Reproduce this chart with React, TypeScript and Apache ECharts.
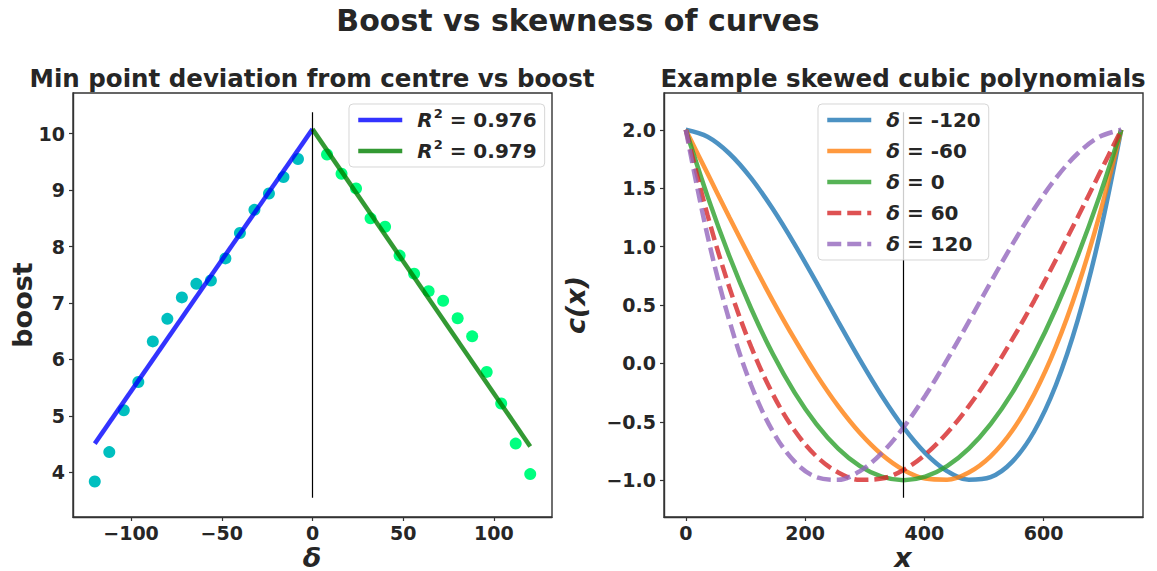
import React, { useEffect, useRef } from "react";
import * as echarts from "echarts";

// ---- Left panel: min point deviation from centre vs boost ----
const deltaNeg = [-120, -112, -104, -96, -88, -80, -72, -64, -56, -48, -40, -32, -24, -16, -8];
const boostNeg = [3.84, 4.36, 5.1, 5.6, 6.32, 6.72, 7.1, 7.34, 7.4, 7.79, 8.24, 8.65, 8.94, 9.23, 9.55];
const deltaPos = [8, 16, 24, 32, 40, 48, 56, 64, 72, 80, 88, 96, 104, 112, 120];
const boostPos = [9.63, 9.29, 9.03, 8.5, 8.35, 7.84, 7.52, 7.21, 7.04, 6.73, 6.41, 5.78, 5.22, 4.51, 3.97];

const fitNegX = [-120, 0];
const fitNegY = [4.51, 10.08];
const fitPosX = [0, 120];
const fitPosY = [10.08, 4.46];
const fitNames = ["R² = 0.976", "R² = 0.979"];

const centreLeftX = 0;
const centreLeftY = [3.55, 10.38];
const leftXTicks = [-100, -50, 0, 50, 100];
const leftYTicks = [4, 5, 6, 7, 8, 9, 10];

// ---- Right panel: example skewed cubic polynomials ----
const xs = [0, 36.5, 73, 109.5, 146, 182.5, 219, 255.5, 292, 328.5, 365, 401.5, 438, 474.5, 511, 547.5, 584, 620.5, 657, 693.5, 730];
const cMinus120 = [2, 1.94, 1.797, 1.586, 1.321, 1.019, 0.693, 0.358, 0.03, -0.277, -0.548, -0.768, -0.922, -0.996, -0.974, -0.841, -0.583, -0.185, 0.368, 1.092, 2];
const cMinus60 = [2, 1.625, 1.252, 0.887, 0.536, 0.207, -0.096, -0.366, -0.596, -0.78, -0.912, -0.986, -0.996, -0.934, -0.796, -0.575, -0.264, 0.143, 0.652, 1.269, 2];
const cZero = [2, 1.43, 0.92, 0.47, 0.08, -0.25, -0.52, -0.73, -0.88, -0.97, -1, -0.97, -0.88, -0.73, -0.52, -0.25, 0.08, 0.47, 0.92, 1.43, 2];
const cPlus60 = [2, 1.269, 0.652, 0.143, -0.264, -0.575, -0.796, -0.934, -0.996, -0.986, -0.912, -0.78, -0.596, -0.366, -0.096, 0.207, 0.536, 0.887, 1.252, 1.625, 2];
const cPlus120 = [2, 1.092, 0.368, -0.185, -0.583, -0.841, -0.974, -0.996, -0.922, -0.768, -0.548, -0.277, 0.03, 0.358, 0.693, 1.019, 1.321, 1.586, 1.797, 1.94, 2];
const curveNames = ["δ = -120", "δ = -60", "δ = 0", "δ = 60", "δ = 120"];

const centreRightX = 365;
const centreRightY = [-1.15, 2.15];
const rightXTicks = [0, 200, 400, 600];
const rightYTicks = [-1, -0.5, 0, 0.5, 1, 1.5, 2];

const FONT = "DejaVu Sans";
const INK = "#262626";
const SPINE = "#333333";

const minus = (s: string) => s.replace("-", "\u2212");

const pairs = (x: number[], y: number[]) => x.map((v, i) => [v, y[i]]);

export default function App() {
  const ref = useRef<HTMLDivElement>(null);

  useEffect(() => {
    if (!ref.current) return;
    const chart = echarts.init(ref.current, null, { renderer: "svg" });

    const tickLabel = {
      color: INK,
      fontFamily: FONT,
      fontWeight: "bold" as const,
      fontSize: 19,
    };
    const axisCommon = {
      axisLine: { show: true, onZero: false, lineStyle: { color: SPINE, width: 1.4 } },
      axisTick: { show: true, length: 4, lineStyle: { color: SPINE, width: 1.2 } },
      splitLine: { show: false },
    };

    const legendText = {
      color: INK,
      fontFamily: FONT,
      fontWeight: "bold" as const,
      fontSize: 20,
      lineHeight: 26,
      rich: {
        i: { fontStyle: "italic", fontWeight: "bold", fontFamily: FONT, fontSize: 20, color: INK, lineHeight: 26, padding: [0, 0, 0, 10] },
        s: { fontWeight: "bold", fontFamily: FONT, fontSize: 13, color: INK, verticalAlign: "top", lineHeight: 26, padding: [0, 0, 8, 1] },
        b: { fontWeight: "bold", fontFamily: FONT, fontSize: 20, color: INK, lineHeight: 26 },
      },
    };

    const legendBox = {
      orient: "vertical",
      itemWidth: 44,
      itemHeight: 14,
      itemGap: 5,
      padding: [3, 8, 3, 7],
      backgroundColor: "rgba(255,255,255,0.8)",
      borderColor: "rgba(204,204,204,0.8)",
      borderWidth: 1,
      borderRadius: 4,
      itemStyle: { opacity: 0 },
      lineStyle: { width: 4.5 },
      textStyle: legendText,
      z: 10,
    };

    const curveColors = [
      "rgba(31,119,180,0.8)",
      "rgba(255,127,14,0.8)",
      "rgba(44,160,44,0.8)",
      "rgba(214,39,40,0.8)",
      "rgba(148,103,189,0.8)",
    ];
    const curveData = [cMinus120, cMinus60, cZero, cPlus60, cPlus120];

    chart.setOption({
      animation: false,
      backgroundColor: "#ffffff",
      grid: [
        { left: 73, top: 93, width: 479, height: 424, show: true, borderColor: SPINE, borderWidth: 1.4, backgroundColor: "transparent" },
        { left: 664, top: 93, width: 479, height: 424, show: true, borderColor: SPINE, borderWidth: 1.4, backgroundColor: "transparent" },
      ],
      xAxis: [
        {
          type: "value",
          gridIndex: 0,
          min: -132,
          max: 132,
          ...axisCommon,
          axisTick: { ...axisCommon.axisTick, customValues: leftXTicks },
          axisLabel: { ...tickLabel, margin: 6, customValues: leftXTicks, formatter: (v: number) => minus(String(v)) },
        },
        {
          type: "value",
          gridIndex: 1,
          min: -36.5,
          max: 766.5,
          ...axisCommon,
          axisTick: { ...axisCommon.axisTick, customValues: rightXTicks },
          axisLabel: { ...tickLabel, margin: 6, customValues: rightXTicks, formatter: (v: number) => String(v) },
        },
      ],
      yAxis: [
        {
          type: "value",
          gridIndex: 0,
          min: 3.21,
          max: 10.72,
          ...axisCommon,
          axisTick: { ...axisCommon.axisTick, customValues: leftYTicks },
          axisLabel: { ...tickLabel, margin: 8, customValues: leftYTicks, formatter: (v: number) => String(v) },
        },
        {
          type: "value",
          gridIndex: 1,
          min: -1.315,
          max: 2.315,
          ...axisCommon,
          axisTick: { ...axisCommon.axisTick, customValues: rightYTicks },
          axisLabel: { ...tickLabel, margin: 8, customValues: rightYTicks, formatter: (v: number) => minus(v.toFixed(1)) },
        },
      ],
      legend: [
        {
          ...legendBox,
          data: fitNames,
          left: 349,
          top: 104,
          formatter: (name: string) => `{i|R}{s|2}{b|${name.slice(2)}}`,
        },
        {
          ...legendBox,
          data: curveNames,
          left: 818,
          top: 104,
          formatter: (name: string) => `{i|δ}{b|${name.slice(1)}}`,
        },
      ],
      series: [
        {
          type: "scatter",
          name: "negative δ",
          xAxisIndex: 0,
          yAxisIndex: 0,
          data: pairs(deltaNeg, boostNeg),
          symbolSize: 12,
          itemStyle: { color: "#00bfbf", opacity: 1 },
          z: 2,
        },
        {
          type: "scatter",
          name: "positive δ",
          xAxisIndex: 0,
          yAxisIndex: 0,
          data: pairs(deltaPos, boostPos),
          symbolSize: 12,
          itemStyle: { color: "#00ff7f", opacity: 1 },
          z: 2,
        },
        {
          type: "line",
          name: fitNames[0],
          xAxisIndex: 0,
          yAxisIndex: 0,
          data: pairs(fitNegX, fitNegY),
          symbol: "none",
          lineStyle: { color: "rgba(0,0,255,0.8)", width: 4.5 },
          itemStyle: { color: "rgba(0,0,255,0.8)" },
          z: 3,
        },
        {
          type: "line",
          name: fitNames[1],
          xAxisIndex: 0,
          yAxisIndex: 0,
          data: pairs(fitPosX, fitPosY),
          symbol: "none",
          lineStyle: { color: "rgba(0,128,0,0.8)", width: 4.5 },
          itemStyle: { color: "rgba(0,128,0,0.8)" },
          z: 3,
        },
        {
          type: "line",
          name: "centre left",
          xAxisIndex: 0,
          yAxisIndex: 0,
          data: centreLeftY.map((y) => [centreLeftX, y]),
          symbol: "none",
          lineStyle: { color: "#000", width: 1.2 },
          z: 4,
        },
        ...curveData.map((ys, k) => ({
          type: "line",
          name: curveNames[k],
          xAxisIndex: 1,
          yAxisIndex: 1,
          data: pairs(xs, ys),
          symbol: "none",
          smooth: 0.35,
          lineStyle: { color: curveColors[k], width: 4.5, type: k >= 3 ? [14, 6] : "solid" },
          itemStyle: { color: curveColors[k] },
          z: 3,
        })),
        {
          type: "line",
          name: "centre right",
          xAxisIndex: 1,
          yAxisIndex: 1,
          data: centreRightY.map((y) => [centreRightX, y]),
          symbol: "none",
          lineStyle: { color: "#000", width: 1.2 },
          z: 4,
        },
      ],
      graphic: [
        {
          type: "text",
          x: 578,
          y: 20,
          style: { text: "Boost vs skewness of curves", font: `bold 30px "${FONT}"`, fill: INK, textAlign: "center", textVerticalAlign: "middle" },
        },
        {
          type: "text",
          x: 312,
          y: 78,
          style: { text: "Min point deviation from centre vs boost", font: `bold 24.5px "${FONT}"`, fill: INK, textAlign: "center", textVerticalAlign: "middle" },
        },
        {
          type: "text",
          x: 903,
          y: 78,
          style: { text: "Example skewed cubic polynomials", font: `bold 24.5px "${FONT}"`, fill: INK, textAlign: "center", textVerticalAlign: "middle" },
        },
        {
          type: "text",
          x: 312,
          y: 557,
          style: { text: "δ", font: `italic bold 27px "${FONT}"`, fill: INK, textAlign: "center", textVerticalAlign: "middle" },
        },
        {
          type: "text",
          x: 903,
          y: 557,
          style: { text: "x", font: `italic bold 27px "${FONT}"`, fill: INK, textAlign: "center", textVerticalAlign: "middle" },
        },
        {
          type: "text",
          x: 22,
          y: 305,
          rotation: Math.PI / 2,
          style: { text: "boost", font: `bold 27px "${FONT}"`, fill: INK, textAlign: "center", textVerticalAlign: "middle" },
        },
        {
          type: "text",
          x: 575,
          y: 305,
          rotation: Math.PI / 2,
          style: { text: "c(x)", font: `italic bold 27px "${FONT}"`, fill: INK, textAlign: "center", textVerticalAlign: "middle" },
        },
      ],
    });

    return () => chart.dispose();
  }, []);

  return (
    <div
      ref={ref}
      style={{ position: "fixed", left: 0, top: 0, width: 1157, height: 571, background: "#fff" }}
    />
  );
}
